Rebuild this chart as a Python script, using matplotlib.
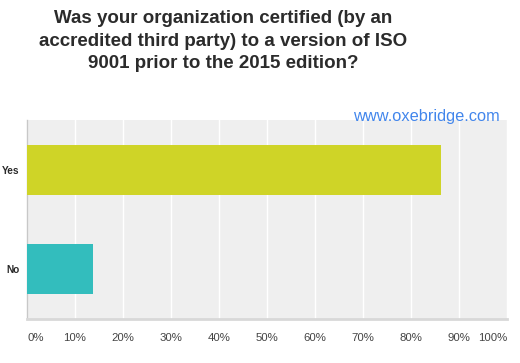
import matplotlib
matplotlib.use("Agg")
import matplotlib.pyplot as plt

categories = ["Yes", "No"]
values = [86.3, 13.7]
colors = ["#cfd427", "#33bdbd"]
xticks = [0, 10, 20, 30, 40, 50, 60, 70, 80, 90, 100]
xticklabels = [f"{t}%" for t in xticks]
title_lines = ["Was your organization certified (by an",
               "accredited third party) to a version of ISO",
               "9001 prior to the 2015 edition?"]

plt.rcParams['font.family'] = ['Liberation Sans', 'DejaVu Sans']

W, H = 520, 363
fig = plt.figure(figsize=(W/100, H/100), dpi=100)
ax = fig.add_axes([27/W, 1-319/H, 480/W, 199/H])
ax.set_facecolor("#efefef")

ypos = list(range(len(categories)))
ax.barh(ypos, values, height=0.5, color=colors, zorder=3)
ax.set_ylim(len(categories)-0.5, -0.5)
ax.set_xlim(0, 100)
ax.set_yticks(ypos)
ax.set_yticklabels(categories, fontsize=7.3, fontweight='bold', color="#2a2a2a")
ax.set_xticks(xticks)
ax.set_xticklabels(xticklabels, fontsize=8.2, color="#444444")
ax.tick_params(axis='both', length=0)
ax.tick_params(axis='y', pad=5.5)
ax.tick_params(axis='x', pad=10)
lbls = ax.get_xticklabels()
lbls[0].set_ha('left')
lbls[-1].set_ha('right')
ax.grid(axis='x', color='white', linewidth=1, zorder=1)
for s in ['top', 'right']:
    ax.spines[s].set_visible(False)
ax.spines['left'].set_color('#c8c8c8')
ax.spines['left'].set_linewidth(1)
ax.spines['bottom'].set_color('#d8d8d8')
ax.spines['bottom'].set_linewidth(2)

for i, line in enumerate(title_lines):
    fig.text(223/W, 1-(23 + 22.5*i)/H, line, ha='center', va='baseline',
             fontsize=13.5, fontweight='bold', color="#2b2b2b")
fig.text(500/W, 1-117/H, "www.oxebridge.com", ha='right', va='center',
         fontsize=11.8, color="#4286ec")

fig.savefig("out.png", dpi=100)
